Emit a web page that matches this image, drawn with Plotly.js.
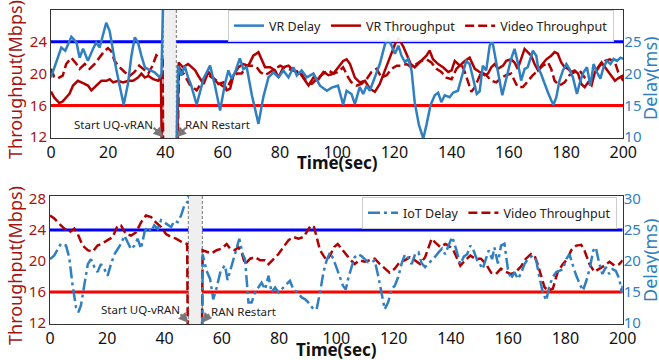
<!DOCTYPE html>
<html><head><meta charset="utf-8">
<script src="https://cdn.plot.ly/plotly-3.0.1.min.js"></script>
<style>html,body{margin:0;padding:0;background:#fff}#chart{width:659px;height:360px}</style>
</head><body><div id="chart"></div>
<script>
// ---------------- DATA ----------------
const xTickVals = [0,20,40,60,80,100,120,140,160,180,200];
const thrTickVals = [12,16,20,24,28];
const delayTickVals = [10,15,20,25,30];
const thrLimitHigh = 24;   // blue reference line (Mbps)
const thrLimitLow = 16;    // red reference line (Mbps)
const topRestart = [39.2, 43.8];   // grey band, top panel (sec)
const botRestart = [48.3, 53.2];   // grey band, bottom panel (sec)

// Top panel: VR Delay (ms)
const vrDelayT = [0,1.9,3.6,5,7.1,8.9,10,11.2,12.9,14.7,15.8,17,18.2,19.3,20.5,21.7,22.8,24,25.4,26.9,28.1,29.3,30.4,31.6,32.8,33.9,35,36.2,38,38.6,39.2,null,
 43.9,44.4,45.6,46.7,47.9,48.9,50.9,53.3,55.6,57.3,59.1,60.8,62,63.1,64.3,66,67.2,68.4,70.2,72.5,74.2,76,77.7,79.5,81.2,83,84.7,85.9,87.6,89.4,91.7,94,96.4,98.1,
 100.3,102.1,103.3,105,106.2,107.9,109.1,110.3,111.4,113.2,114.9,116.7,117.9,119,120.2,121.4,122.5,123.7,124.8,126,127.1,128.6,130.1,131.2,132.6,134.1,135.3,136.4,137.6,139.3,140.5,142.2,143.4,145.1,146.3,147.5,148.8,149.8,
 150.9,152.1,153.3,154.2,155.4,156.5,157.7,159.1,160.8,162,163.1,164.3,165.5,166.6,168.4,169.6,170.2,171.3,172.5,173.7,174.8,175.6,176.6,177.7,178.9,180.1,181.2,182.4,183.8,185,186.1,187.3,188.5,189.6,190.8,192,193.1,194.3,195.5,196.6,197.8,199,200];
const vrDelay = [19.4,21.8,24.1,23.6,25.8,24.9,22.5,23.9,22.0,23.9,24.9,24.1,26.2,28.0,26.7,23.3,20.7,18.1,15.1,18.4,22.8,25.7,24.9,22.8,21.0,20.7,20.5,20.2,19.4,20,32,null,
 9,21.2,19.7,21.2,19.4,18.3,15.1,19.2,21.25,18.1,14.2,18.4,20.5,19.2,20.2,22.4,20.7,21.0,16.6,12.1,16.3,19.4,20.2,19.4,20.5,19.4,21.0,19.7,20.5,19.4,20.0,18.1,17.3,17.8,
 18.1,15.1,17.3,16.8,15.2,17.9,16.8,18.1,17.3,19.4,21.5,24.6,25.4,24.4,23.1,24.4,22.8,21.8,22.3,20.5,15.5,11.9,9.8,11.9,15.0,16.6,17.0,15.5,16.6,16.3,17.0,17.3,19.4,22.0,21.5,19.4,16.8,17.2,
 21.25,20.5,24.4,25.2,22.3,19.2,16.6,19.2,22.3,23.9,21.8,18.9,20.7,21.0,23.6,22.8,21.0,19.9,18.6,17.0,15.8,15.1,16.3,18.9,20.5,21.5,20.7,19.4,16.8,18.9,20.2,21.0,18.1,21.5,20.2,19.2,21.0,22.0,21.5,22.3,22.0,22.5,22.3];

// Top panel: VR Throughput (Mbps)
const vrThrT = [0,1.1,2.9,4.1,5.3,6.5,7.7,9.4,11.2,12.9,14.1,15.8,17.6,19.4,20.5,21.7,23.4,25.2,27,28.7,30.4,31.6,32.8,34,35.7,37.5,38.4,38.7,null,
 44.1,44.6,46.1,47.9,48.6,50.4,51.5,53.3,55,56.8,58.5,60.3,61.4,62.6,63.7,65.5,67.2,69,70.7,72.5,73.7,74.8,76.6,78.3,79.5,81.2,83,84.7,87.1,88.8,90,91.7,93.5,95.2,97,98.7,
 100.3,102.1,103.3,104.5,106.2,107.9,109.7,111.4,113.2,114.9,116.7,117.9,119,120.2,121.4,122,123.1,124.5,125.7,127.1,128.3,129.4,131.2,132.3,133.5,135.3,137,138.8,140,141.1,142.9,144.6,146.3,148.1,
 150.4,151.5,152.7,153.9,155,156.2,158,159.1,160.8,162,163.1,164.3,165.5,166.6,167.8,169,170.2,171.3,173.1,174.8,176,177.1,178.3,179.5,180.7,181.8,183,184.2,185.3,186.5,187.7,188.9,190.1,191.2,192.4,193.6,195.3,197.1,198.2,200];
const vrThr = [17.75,17.0,16.3,16.5,17.0,17.5,18.5,19.1,18.8,18.5,17.9,18.5,19.1,19.1,19.3,18.9,19.1,18.9,19.1,19.1,19.5,20.0,19.5,19.7,19.3,19.1,19.6,11,null,
 11,21.4,20.8,21.2,21.0,20.4,19.7,18.7,20.2,19.5,18.7,18.9,17.9,18.1,19.7,20.8,21.2,21.0,22.25,22.7,21.8,20.8,20.8,20.4,19.5,20.8,21.0,20.4,20.0,19.1,18.5,19.5,19.3,20.2,19.8,20.0,
 20.8,21.6,21.8,21.2,19.5,18.9,19.1,18.1,17.7,18.7,20.4,21.6,22.7,23.7,24.5,24.1,23.4,22.25,21.2,20.8,21.2,21.6,22.25,22.9,21.8,21.2,20.8,20.2,20.4,21.6,21.0,21.6,22.0,20.6,
 20.0,19.8,20.0,20.8,21.2,20.6,21.0,21.6,21.8,21.4,20.6,21.8,23.1,22.7,22.25,21.2,20.4,21.0,21.8,22.25,22.7,22.5,21.4,20.8,20.6,20.2,20.4,20.0,18.7,18.3,18.9,18.5,20.2,20.8,21.4,20.8,20.0,19.1,19.4,19.8];

// Top panel: Video Throughput (Mbps)
const vidThrTopT = [0,1.1,2.3,4.1,5.3,7.1,8.9,10,11.8,13.5,15.2,17,18.8,19.9,21.1,22.2,24,25.7,27.5,29.2,30.8,32.5,34,35.5,36.8,38,39,39.2,null,
 44.3,44.7,46.7,48.5,50.9,52.7,54.5,56.2,58,59.7,61.4,63.1,64.9,66.6,68.4,70.2,71.9,73.1,74.8,76.6,78.3,80.1,82.4,84.7,87.1,89.4,91.1,92.8,95.2,97,98.7,
 100.3,102.1,103.9,105,106.8,108.5,110.3,112,113.8,115.5,117.3,119,120.8,122.5,124.2,126,127.7,129.4,131.2,132.9,134.7,136.4,138.2,140,141.7,143.4,144.6,145.7,146.9,148.1,149.3,
 150.4,152.1,153.9,155.6,157.4,159.1,160.8,162,163.1,164.9,166.6,168.4,170.2,171.9,173.7,174.8,176,177.7,179.5,181.2,183,184.7,186.5,188.3,190.1,191.8,193.6,195.3,197.1,198.2,200];
const vidThrTop = [20.6,19.6,19.4,19.75,21.2,22.0,21.2,20.6,21.2,20.6,21.2,22.0,22.9,23.2,22.8,21.6,20.8,20.2,19.7,20.2,21.0,20.5,20.0,21.0,22.3,22.0,21.8,11,null,
 11,20.8,19.8,18.6,17.9,18.9,20.0,19.5,19.1,18.5,18.1,19.3,20.0,20.0,21.0,21.0,20.8,20.2,19.8,20.2,20.6,21.0,20.6,20.4,20.2,18.9,18.7,19.3,20.0,20.4,20.0,
 20.2,20.8,19.5,18.9,18.5,18.7,19.3,20.2,20.6,19.5,19.8,20.6,21.0,21.0,21.2,20.8,21.2,21.6,21.8,21.4,20.6,20.2,19.5,19.3,20.6,21.2,20.2,18.9,17.7,18.3,19.4,
 20.2,19.8,19.1,18.9,19.5,19.8,20.0,19.1,18.3,18.3,19.1,19.8,20.4,21.0,21.4,20.6,19.1,18.5,18.9,19.8,20.2,20.4,19.5,19.1,20.0,21.0,21.6,21.8,21.4,20.2,19.1];

// Bottom panel: IoT Delay (ms)
const iotDelayT = [0,1.5,3.8,5.6,6.7,7.9,9.1,9.9,10.8,12,13.2,14.3,15.5,16.6,17.8,19,20.1,21.3,22.5,23.6,24.8,26,27.1,28.3,29.5,30.6,31.8,33,34.1,35.3,36.4,37.6,38.8,40.5,42.3,43.4,44.6,45.8,46.9,48.1,48.3,null,
 53.2,53.3,54.7,55.9,57,58.2,59.6,61.1,62,63.1,64.6,66.1,67.3,68.1,69.3,70.4,71.6,72.8,73.9,75.1,76.3,77.4,78.6,79.8,80.9,82.7,83.8,85,86.4,87.9,89.1,90.2,92,93.1,94.3,95.5,96.6,97.8,99,
 100,101.2,102.3,103.3,104.1,105.3,106.4,107.6,108.8,109.9,111.1,112.3,113.4,114.6,115.8,116.9,118.1,119.3,120.4,121.6,122.8,124,125.1,126.3,127.5,128.7,129.8,131,132.2,133.4,134.5,135.7,136.9,138,139.2,140.4,141.2,142.2,143.3,144.5,145.7,146.8,148,149.2,
 150,151.1,152.1,153.2,154.4,155.2,156.4,157.5,158.7,159.9,161,162.2,163.4,164.5,165.7,166.9,168.6,169.8,170.9,172.1,173.3,174.4,175.6,176.8,177.9,179.1,180.3,181.4,182.6,183.8,185,186.1,187.3,188.5,189.7,190.6,191.8,192.9,194.1,195.3,196.4,197.6,198.8,199.7,200];
const iotDelay = [20.3,20.9,22.8,22.5,20.6,16.0,12.5,11.7,12.8,16.0,19.5,20.3,19.0,18.2,19.5,18.7,17.6,19.5,21.1,21.9,22.8,24.1,23.0,21.9,22.5,23.6,22.0,24.7,25.5,24.7,25.8,25.2,26.6,26.0,25.5,26.5,26.3,27.4,29.0,29.6,31,null,
 9,21.1,18.4,17.1,13.8,15.7,18.4,19.3,16.9,18.8,21.1,23.6,21.1,20.3,13.3,13.3,14.9,15.7,16.5,15.4,17.6,14.9,15.7,14.9,15.4,16.3,16.8,15.4,14.9,14.1,13.8,13.3,12.2,12.2,14.9,18.2,20.1,21.4,20.3,
 19.0,17.4,16.0,15.4,17.1,19.0,20.6,21.1,20.8,20.3,19.8,19.8,20.1,17.6,14.9,12.2,13.3,15.5,16.0,17.4,19.6,21.1,20.5,19.5,21.1,21.4,19.6,19.0,19.6,20.1,20.7,21.4,22.0,21.1,22.5,23.9,22.9,21.1,19.5,20.7,21.1,22.5,21.6,20.1,
 19.6,18.7,20.1,21.7,20.3,22.2,19.6,22.5,22.8,18.7,17.1,18.2,17.1,18.0,19.5,20.3,20.9,20.1,17.4,14.9,13.6,16.0,17.4,18.2,18.4,18.7,20.3,21.1,19.3,17.6,16.3,15.2,16.8,18.8,21.7,22.2,19.6,17.9,19.0,17.9,18.7,18.4,17.1,14.9,16.0];

// Bottom panel: Video Throughput (Mbps)
const vidThrBotT = [0,1.5,3.3,5,6.8,8.5,9.7,11.4,13.2,14.9,16.6,18.4,20.1,21.9,23.6,24.8,26.5,28.3,30,31.8,33.5,35.3,37,38.8,40.5,42.3,44,46.3,47.9,48.1,null,
 53.1,53.3,54.7,56.4,58.2,59.9,61.7,62.9,64.6,65.8,67,68.1,69.9,71.6,73.4,75.1,76.3,78,79.8,81.5,83.3,85,86.8,88.5,89.9,91.1,92.2,93.2,94.3,95.5,96.6,97.8,99.2,
 100.5,101.7,103.4,104.6,106.4,108.1,109.9,111.6,113.4,115.2,116.9,118.6,120.4,122.2,123.9,125.7,127.4,129.2,131,132.2,133.3,134.5,136.3,138,139.2,140.9,142.1,143.3,145,146.8,148.5,
 150.5,152.3,154,155.7,157.5,159.2,161,162.7,164.5,166.2,168,169.2,170.3,171.5,172.7,173.8,175.6,177.3,179.1,180.8,182,183.8,185.5,186.7,188.4,190.1,191.9,193.6,195.4,197.1,198.8,200];
const vidThrBot = [25.9,25.5,24.8,24.2,23.7,24.2,23.5,22.0,21.4,21.2,22.0,22.3,22.7,23.1,24.6,24.6,23.5,23.3,23.7,25.0,25.9,25.7,25.0,24.4,23.5,23.1,22.9,22.4,22.2,11,null,
 11,21.4,21.2,21.0,21.4,21.6,22.2,21.6,21.4,21.8,21.0,19.6,20.3,20.5,20.1,20.1,19.6,20.3,20.9,21.8,22.7,23.1,22.9,23.1,24.0,24.6,24.4,23.1,21.4,20.7,20.1,20.7,21.8,
 22.2,21.6,20.9,20.3,19.6,20.1,19.9,20.1,20.3,19.6,19.0,18.5,19.0,19.9,20.1,20.5,20.1,19.6,20.5,21.8,22.9,22.4,21.8,22.2,22.0,21.4,20.3,19.4,20.1,20.7,20.3,
 20.3,19.6,18.5,18.3,19.0,18.6,18.3,18.6,19.3,20.3,20.9,20.7,19.6,18.1,16.6,16.2,16.4,18.6,19.6,20.3,21.4,22.0,22.1,21.3,19.6,18.6,19.0,19.4,19.9,19.4,19.6,20.1];

// ---------------- STYLE / LAYOUT ----------------
const W = 659, H = 360;
const PX = p => p / W, PY = p => 1 - p / H;
const FONT = 'Noto Sans, Open Sans, sans-serif';
const delayBlue = '#2f7fc1';
const darkRed = '#b00000';
const labelRed = '#a31515';

// axis ranges (throughput and delay axes are aligned: 12 Mbps <-> 10 ms, 28 Mbps <-> 30 ms)
const toDelay = v => 10 + (v - 12) * 1.25;
const topThrRange = [11.9, 28.0];
const botThrRange = [11.84, 28.42];

const traces = [
  {x: vrDelayT, y: vrDelay, xaxis: 'x', yaxis: 'y2', name: 'VR Delay', mode: 'lines',
   line: {color: delayBlue, width: 2.5}, legend: 'legend', connectgaps: false},
  {x: vrThrT, y: vrThr, xaxis: 'x', yaxis: 'y', name: 'VR Throughput', mode: 'lines',
   line: {color: darkRed, width: 2.5}, legend: 'legend', connectgaps: false},
  {x: vidThrTopT, y: vidThrTop, xaxis: 'x', yaxis: 'y', name: 'Video Throughput', mode: 'lines',
   line: {color: darkRed, width: 2.5, dash: '9px,4px'}, legend: 'legend', connectgaps: false},
  {x: iotDelayT, y: iotDelay, xaxis: 'x2', yaxis: 'y4', name: 'IoT Delay', mode: 'lines',
   line: {color: delayBlue, width: 2.5, dash: '12px,4px,3px,4px'}, legend: 'legend2', connectgaps: false},
  {x: vidThrBotT, y: vidThrBot, xaxis: 'x2', yaxis: 'y3', name: 'Video Throughput', mode: 'lines',
   line: {color: darkRed, width: 2.5, dash: '9px,4px'}, legend: 'legend2', connectgaps: false}
];

function xAxis(domain, anchor) {
  return {domain: domain, anchor: anchor, range: [0, 200], tickvals: xTickVals, showgrid: false, zeroline: false,
    showline: true, mirror: true, linecolor: '#333', linewidth: 1, ticks: '',
    tickfont: {family: FONT, size: 16, color: '#111'}};
}
function yAxisL(domain, anchor, range) {
  return {domain: domain, anchor: anchor, range: range, tickvals: thrTickVals, showgrid: false, zeroline: false,
    showline: true, mirror: true, linecolor: '#333', linewidth: 1, ticks: '',
    tickfont: {family: FONT, size: 15, color: labelRed}};
}
function yAxisR(overlay, anchor, range) {
  return {overlaying: overlay, anchor: anchor, side: 'right', range: [toDelay(range[0]), toDelay(range[1])],
    tickvals: delayTickVals, showgrid: false, zeroline: false, showline: false, ticks: '',
    tickfont: {family: FONT, size: 15, color: delayBlue}};
}

const topXDom = [PX(51), PX(623.3)], topYDom = [PY(138), PY(10)];
const botXDom = [PX(50), PX(622.7)], botYDom = [PY(324), PY(196)];

function bandShapes(xref, yref, band, yr) {
  const s = [];
  s.push({type: 'rect', xref: xref, yref: yref, x0: band[0], x1: band[1], y0: yr[0], y1: yr[1],
    fillcolor: '#efefef', line: {width: 0}, layer: 'below'});
  band.forEach(b => s.push({type: 'line', xref: xref, yref: yref, x0: b, x1: b, y0: yr[0], y1: yr[1],
    line: {color: '#777', width: 1, dash: '3px,2px'}, layer: 'below'}));
  [[thrLimitHigh, '#0000ff'], [thrLimitLow, '#ff0000']].forEach(([v, c]) => {
    s.push({type: 'line', xref: xref, yref: yref, x0: 0, x1: band[0], y0: v, y1: v, line: {color: c, width: 3}, layer: 'below'});
    s.push({type: 'line', xref: xref, yref: yref, x0: band[1], x1: 200, y0: v, y1: v, line: {color: c, width: 3}, layer: 'below'});
  });
  return s;
}

const annFont = {family: FONT, size: 11.5, color: '#222'};
const titleFont = {family: FONT, size: 18};
function paperText(text, x, y, font, extra) {
  return Object.assign({text: text, xref: 'paper', yref: 'paper', x: PX(x), y: PY(y), showarrow: false,
    font: font, xanchor: 'center', yanchor: 'middle'}, extra || {});
}
function arrow(xref, yref, x, y, ax, ay) {
  return {text: '', xref: xref, yref: yref, x: x, y: y, ax: ax, ay: ay, showarrow: true, arrowhead: 2,
    arrowsize: 0.9, arrowwidth: 2.2, arrowcolor: '#777', standoff: 0};
}
const annotations = [
  paperText('Throughput(Mbps)', 15, 80, Object.assign({}, titleFont, {color: labelRed}), {textangle: -90}),
  paperText('Delay(ms)', 650, 79, Object.assign({}, titleFont, {color: delayBlue}), {textangle: -90}),
  paperText('<b>Time(sec)</b>', 337, 163, {family: FONT, size: 17, color: '#111'}),
  paperText('Throughput(Mbps)', 15, 266, Object.assign({}, titleFont, {color: labelRed}), {textangle: -90}),
  paperText('Delay(ms)', 650, 261, Object.assign({}, titleFont, {color: delayBlue}), {textangle: -90}),
  paperText('<b>Time(sec)</b>', 336, 349, {family: FONT, size: 17, color: '#111'}),
  paperText('Start UQ-vRAN', 113.5, 124, annFont),
  paperText('RAN Restart', 217, 124, annFont),
  paperText('Start UQ-vRAN', 140, 309, annFont),
  paperText('RAN Restart', 244, 311, annFont),
  arrow('x', 'y', topRestart[0], 12, -11, -11),
  arrow('x', 'y', topRestart[1], 12, 11, -11),
  arrow('x2', 'y3', botRestart[0], 12, -9, -10),
  arrow('x2', 'y3', botRestart[1], 12, 8, -10)
];

const legendStyle = {orientation: 'h', bgcolor: 'rgba(255,255,255,0.9)', bordercolor: '#cccccc', borderwidth: 1,
  font: {family: FONT, size: 12.5, color: '#222'}, xanchor: 'left', yanchor: 'top', tracegroupgap: 0, itemwidth: 30};

const layout = {
  width: W, height: H, margin: {l: 0, r: 0, t: 0, b: 0}, paper_bgcolor: '#fff', plot_bgcolor: '#fff', showlegend: true,
  xaxis: xAxis(topXDom, 'y'),
  yaxis: yAxisL(topYDom, 'x', topThrRange),
  yaxis2: yAxisR('y', 'x', topThrRange),
  xaxis2: xAxis(botXDom, 'y3'),
  yaxis3: yAxisL(botYDom, 'x2', botThrRange),
  yaxis4: yAxisR('y3', 'x2', botThrRange),
  legend: Object.assign({}, legendStyle, {x: PX(228), y: PY(10)}),
  legend2: Object.assign({}, legendStyle, {x: PX(362), y: PY(197)}),
  shapes: bandShapes('x', 'y', topRestart, topThrRange).concat(bandShapes('x2', 'y3', botRestart, botThrRange)),
  annotations: annotations
};

Plotly.newPlot('chart', traces, layout, {displayModeBar: false, staticPlot: true});
</script></body></html>
